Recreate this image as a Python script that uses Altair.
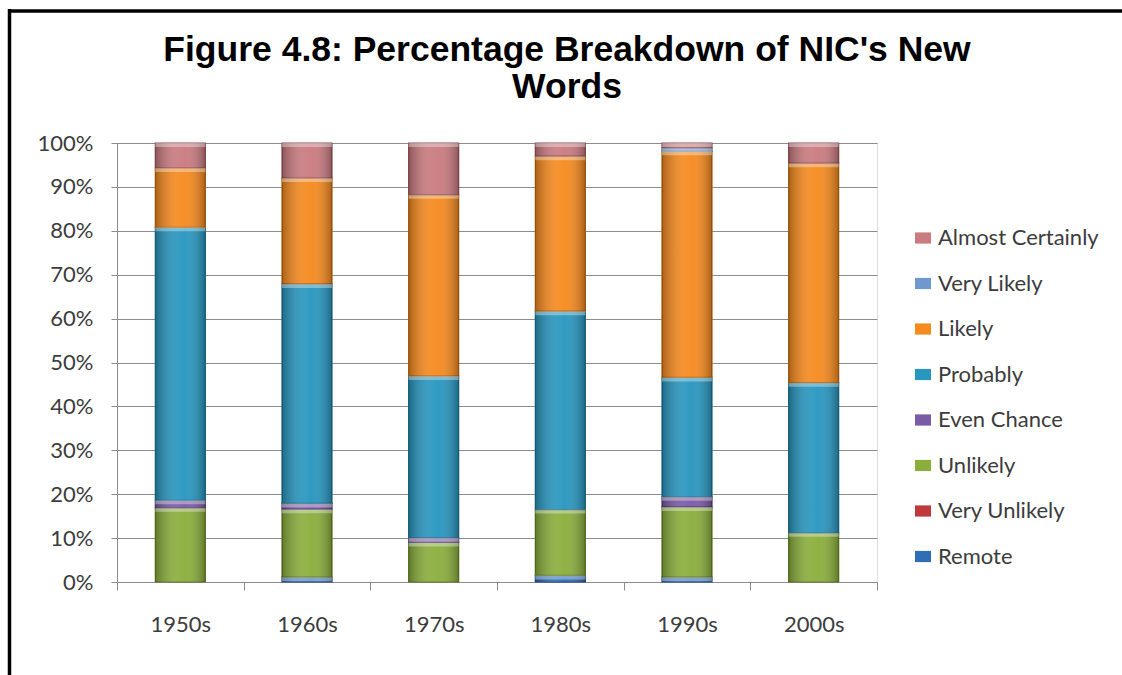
import altair as alt
import pandas as pd

# Decades on the x axis
decades = ["1950s", "1960s", "1970s", "1980s", "1990s", "2000s"]

# Estimative-probability categories, in legend order (top of stack first)
categories = [
    "Almost Certainly", "Very Likely", "Likely", "Probably",
    "Even Chance", "Unlikely", "Very Unlikely", "Remote",
]

# Share of new words (%) per category, one value per decade
remote           = [0.0, 1.1, 0.0, 1.5, 1.1, 0.0]
very_unlikely    = [0.0, 0.0, 0.0, 0.0, 0.0, 0.0]
unlikely         = [16.9, 15.5, 9.0, 15.0, 16.0, 11.2]
even_chance      = [1.7, 1.3, 1.1, 0.0, 2.3, 0.0]
probably         = [62.2, 50.0, 36.8, 45.2, 27.2, 34.2]
likely           = [13.5, 24.1, 41.3, 35.3, 51.5, 50.0]
very_likely      = [0.0, 0.0, 0.0, 0.0, 0.8, 0.0]
almost_certainly = [5.7, 8.0, 11.8, 3.0, 1.1, 4.6]

title_lines = ["Figure 4.8: Percentage Breakdown of NIC's New", "Words"]

series = {
    "Remote": remote,
    "Very Unlikely": very_unlikely,
    "Unlikely": unlikely,
    "Even Chance": even_chance,
    "Probably": probably,
    "Likely": likely,
    "Very Likely": very_likely,
    "Almost Certainly": almost_certainly,
}

fill_colors = ["#C97B80", "#6F98CF", "#F58A1F", "#2896BF",
               "#7B5AA6", "#8AAE3C", "#C0393C", "#2F6DB5"]
edge_colors = ["#8E4B50", "#46699A", "#B0600F", "#1B6A87",
               "#523A75", "#5E7A22", "#862226", "#1D4A80"]

rows = []
for name, vals in series.items():
    rank = len(categories) - 1 - categories.index(name)  # Remote stacks at the bottom
    for d, v in zip(decades, vals):
        rows.append({"decade": d, "category": name, "value": v, "rank": rank})
df = pd.DataFrame(rows)

label_font = "Lato"
text_grey = "#3C3C3C"
line_grey = "#8C8C8C"

base = (
    alt.Chart(df)
    .transform_stack(
        stack="value", groupby=["decade"], as_=["y0", "y1"],
        sort=[alt.SortField("rank", order="ascending")],
    )
    .transform_filter("datum.value > 0")
)

x_enc = alt.X(
    "decade:N", sort=decades,
    scale=alt.Scale(padding=0),
    axis=alt.Axis(
        title=None, labelAngle=0, tickBand="extent", tickSize=8,
        tickColor=line_grey, domainColor=line_grey, grid=False,
        labelFont=label_font, labelFontSize=22, labelColor=text_grey,
        labelPadding=24,
    ),
)
y_enc = alt.Y(
    "y0:Q",
    scale=alt.Scale(domain=[0, 100], nice=False),
    axis=alt.Axis(
        title=None, values=list(range(0, 101, 10)),
        labelExpr="datum.value + '%'", tickSize=6, tickColor=line_grey,
        domainColor=line_grey, grid=True, gridColor=line_grey,
        labelFont=label_font, labelFontSize=22, labelColor=text_grey,
        labelPadding=18,
    ),
)

bar_width = alt.RelativeBandSize(0.395)

bars = base.mark_bar(width=bar_width, strokeWidth=1.2).encode(
    x=x_enc,
    y=y_enc,
    y2="y1:Q",
    color=alt.Color(
        "category:N",
        scale=alt.Scale(domain=categories, range=fill_colors),
        legend=alt.Legend(
            title=None, orient="none", legendX=795, legendY=84,
            symbolType="M-1,-0.7H1V0.7H-1Z", symbolSize=256,
            symbolStrokeWidth=0, labelFont=label_font, labelFontSize=22,
            labelColor=text_grey, rowPadding=23.5, labelOffset=4,
            labelLimit=300,
        ),
    ),
    stroke=alt.Stroke(
        "category:N",
        scale=alt.Scale(domain=categories, range=edge_colors),
        legend=None,
    ),
)

# Horizontal shading: darker edges, brighter centre of each column
shade = base.mark_bar(
    width=bar_width,
    fill=alt.LinearGradient(
        gradient="linear", x1=0, x2=1, y1=0, y2=0,
        stops=[
            alt.GradientStop(color="rgba(0,0,0,0.30)", offset=0),
            alt.GradientStop(color="rgba(255,255,255,0.08)", offset=0.45),
            alt.GradientStop(color="rgba(255,255,255,0.04)", offset=0.6),
            alt.GradientStop(color="rgba(0,0,0,0.30)", offset=1),
        ],
    ),
).encode(x="decade:N", y="y0:Q", y2="y1:Q")

# Light bevel along the top edge of each segment
bevel = base.mark_bar(
    width=bar_width, fill="white", opacity=0.35, y2Offset=4,
).encode(x="decade:N", y="y1:Q", y2="y1:Q")

one_row = alt.Data(values=[{"k": 0}])

# Two-line heading above the plot
heading = alt.Chart(one_row).mark_text(
    text=title_lines, font="Liberation Sans", fontSize=35.5, fontWeight="bold",
    color="black", align="center", baseline="alphabetic", lineHeight=37,
).encode(x=alt.value(450), y=alt.value(-82))

# Black border of the chart frame (top and left edges)
frame_top = alt.Chart(one_row).mark_rule(color="black", strokeWidth=3.5).encode(
    x=alt.value(-109), x2=alt.value(1010), y=alt.value(-132)
)
frame_left = alt.Chart(one_row).mark_rule(color="black", strokeWidth=3.5).encode(
    x=alt.value(-107.5), y=alt.value(-134), y2=alt.value(540)
)

chart = (
    alt.layer(bars, shade, bevel, heading, frame_top, frame_left)
    .properties(
        width=760,
        height=439,
        autosize="none",
        padding={"left": 117, "top": 143, "right": 245, "bottom": 93},
    )
    .configure_view(stroke=None)
    .configure(background="white")
)

chart.save("out.html", embed_options={"renderer": "svg", "actions": False})
